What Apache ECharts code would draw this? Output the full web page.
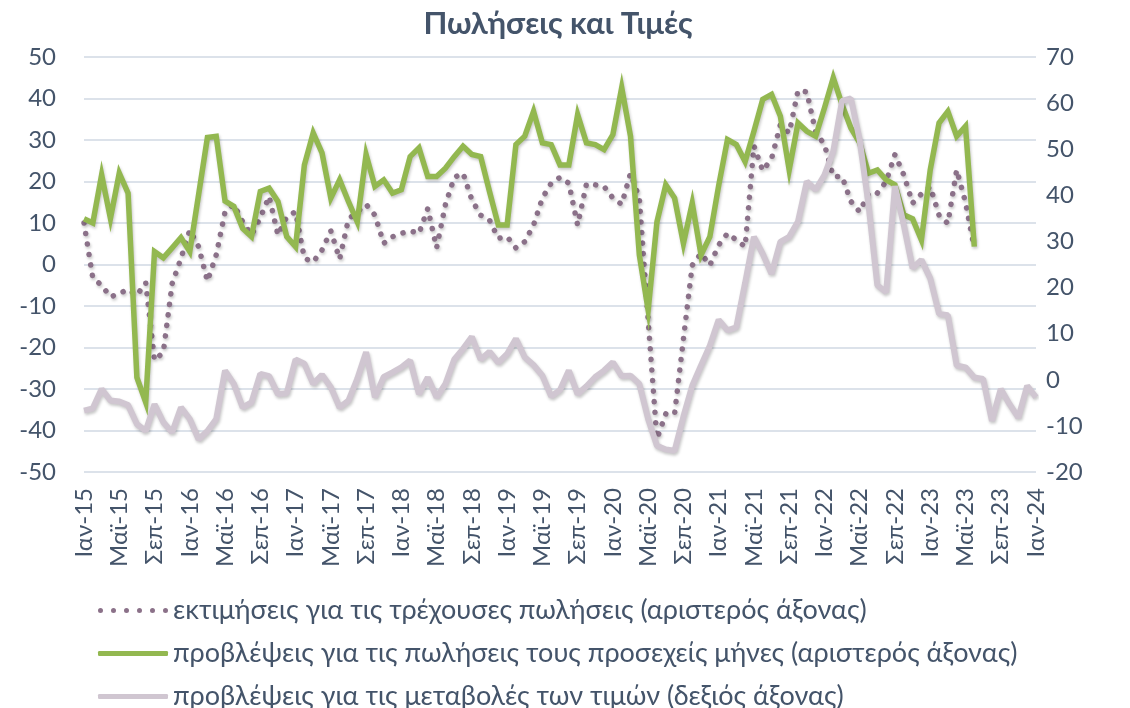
<!DOCTYPE html>
<html>
<head>
<meta charset="utf-8">
<title>Πωλήσεις και Τιμές</title>
<script src="https://cdn.jsdelivr.net/npm/echarts@6/dist/echarts.min.js"></script>
<style>
  html, body { margin: 0; padding: 0; background: #fff; }
  #chart { width: 1130px; height: 708px; }
</style>
</head>
<body>
<div id="chart"></div>
<script>
// μήνες Ιαν-15 ... Ιαν-24
const monthNames = ['Ιαν', 'Φεβ', 'Μαρ', 'Απρ', 'Μαϊ', 'Ιουν', 'Ιουλ', 'Αυγ', 'Σεπ', 'Οκτ', 'Νοε', 'Δεκ'];
const years = [15, 16, 17, 18, 19, 20, 21, 22, 23, 24];

const leftTicks = [-50, -40, -30, -20, -10, 0, 10, 20, 30, 40, 50];
const rightTicks = [-20, -10, 0, 10, 20, 30, 40, 50, 60, 70];

// εκτιμήσεις για τις τρέχουσες πωλήσεις (αριστερός άξονας)
const currentSales = [
  10, -3.3, -5, -7.8, -7, -6, -7.4, -4.4, -23.1, -21.1, -4.6, 1.5,
  8.3, 4.3, -4, 2.3, 12.7, 14.5, 10.3, 7.1, 11.3, 16.4, 7.1, 11.5,
  12.7, 1.5, 0.6, 3.5, 8.1, 1.3, 10.9, 12.7, 14.5, 11.9, 5.1, 6.7,
  7.5, 8.1, 7.5, 13.5, 4, 14.4, 21, 22, 15.6, 11.9, 10.7, 6.3,
  6.7, 4, 5.5, 9.5, 16, 19.6, 21, 19.6, 9.5, 19.4, 19.2, 18.8,
  16, 14.5, 22, 16, -13.5, -42, -36, -36, -18, -0.2, 2.7, -0.2,
  4.7, 7.5, 5.9, 4.3, 28.6, 22.6, 25.5, 33.7, 31.7, 41.9, 41.6, 31.9,
  28.9, 21.2, 21.2, 15.2, 12.7, 17.2, 17.2, 20, 26.5, 21.6, 14.8, 17,
  18.8, 11.9, 9.9, 22.8, 15, 3.9
];

// προβλέψεις για τις πωλήσεις τους προσεχείς μήνες (αριστερός άξονας)
const salesOutlook = [
  11, 10, 21.6, 11.1, 22, 17.2, -27.2, -33.2, 3.1, 1.6, 4, 6.5,
  3.1, 16.8, 30.6, 30.9, 15.3, 14, 8.7, 6.7, 17.6, 18.4, 15.2, 6.7,
  4.3, 24, 31.7, 26.9, 16, 20.4, 15.2, 10.3, 26.5, 18.8, 20.4, 17.2,
  18, 26, 28.1, 21.2, 21.2, 23.2, 26, 28.5, 26.5, 26, 17.6, 9.5,
  9.5, 28.9, 30.9, 36.9, 29.3, 28.9, 24, 24, 36.1, 29.3, 28.9, 27.7,
  31.3, 42.6, 30.9, 2.3, -11, 10.3, 19.2, 16, 5.1, 14.8, 2.3, 6.7,
  19, 30.1, 28.9, 24.8, 32.1, 39.8, 41, 35.7, 22.8, 34.1, 32.1, 30.9,
  37.7, 45, 38.5, 32.9, 29.3, 22, 22.8, 20.4, 19.2, 12, 11, 5.9,
  22.8, 34.1, 36.9, 30.9, 33.3, 4.3
];

// προβλέψεις για τις μεταβολές των τιμών (δεξιός άξονας)
const priceOutlook = [
  -6.7, -6.2, -2, -4.5, -4.7, -5.5, -9.6, -11.1, -5.3, -9.2, -11.4, -6,
  -8.5, -12.9, -11.1, -8.5, 2, -0.9, -6, -4.9, 1.3, 0.8, -3.1, -2.9,
  4.4, 3.5, -0.9, 1.1, -1.6, -6, -4.5, 0.2, 6, -3.8, 0.6, 1.6,
  2.7, 4.2, -3.1, 0.5, -3.8, -0.9, 4.4, 6.7, 9.3, 4.4, 6.1, 3.7,
  5.6, 8.9, 4.9, 3.2, 0.9, -3.6, -2.2, 2, -3.1, -1.4, 0.6, 2,
  3.8, 0.8, 0.9, -0.9, -8.5, -14.3, -15.1, -15.4, -8, -1.3, 3.1, 7.4,
  13, 10.7, 11.4, 21, 31, 27.3, 23, 29.9, 31, 34.3, 43, 41.2,
  44.4, 49.5, 60.5, 61, 52, 38, 20.5, 19, 42, 33.6, 24.2, 26,
  22, 14.3, 14, 3.1, 2.7, 0.5, 0.2, -8.9, -2, -5.3, -8.2, -1.3,
  -3.8
];

const seriesNames = [
  'εκτιμήσεις για τις τρέχουσες πωλήσεις (αριστερός άξονας)',
  'προβλέψεις για τις πωλήσεις τους προσεχείς μήνες (αριστερός άξονας)',
  'προβλέψεις για τις μεταβολές των τιμών (δεξιός άξονας)'
];

const months = [];
years.forEach(y => {
  monthNames.forEach(m => {
    if (y < 24 || m === 'Ιαν') months.push(m + '-' + y);
  });
});

const textColor = '#44546a';
const fontName = 'Lato, "Open Sans", sans-serif';

// εικονίδια υπομνήματος: κουκκίδες και συμπαγής γραμμή
const dotIcon = 'path://' + [2.5, 15.5, 28.5, 41.5, 54.5, 67.5]
  .map(c => 'M' + (c - 2.5) + ',2.5A2.5,2.5 0 1,1 ' + (c + 2.5) + ',2.5A2.5,2.5 0 1,1 ' + (c - 2.5) + ',2.5Z')
  .join('');
const lineIcon = 'roundRect';

const chart = echarts.init(document.getElementById('chart'), null, { renderer: 'canvas' });

const shadow = {
  shadowColor: 'rgba(0, 0, 0, 0.22)',
  shadowBlur: 3,
  shadowOffsetX: 1,
  shadowOffsetY: 2
};

const option = {
  animation: false,
  backgroundColor: '#ffffff',
  textStyle: { fontFamily: fontName },
  title: {
    text: 'Πωλήσεις και Τιμές',
    left: 553,
    top: 3,
    textAlign: 'center',
    textStyle: {
      color: textColor,
      fontSize: 31,
      fontWeight: 'bold',
      fontFamily: fontName
    }
  },
  legend: {
    orient: 'horizontal',
    left: 93,
    top: 589,
    width: 960,
    itemWidth: 70,
    itemHeight: 5,
    itemGap: 10,
    itemStyle: { borderWidth: 0 },
    data: [
      { name: seriesNames[0], icon: dotIcon },
      { name: seriesNames[1], icon: lineIcon },
      { name: seriesNames[2], icon: lineIcon }
    ],
    textStyle: {
      color: textColor,
      fontSize: 27,
      lineHeight: 33,
      fontFamily: fontName
    }
  },
  grid: {
    left: 84,
    right: 94,
    top: 57,
    bottom: 236
  },
  xAxis: {
    type: 'category',
    boundaryGap: false,
    data: months,
    axisLine: { show: false },
    axisTick: { show: false },
    splitLine: { show: false },
    axisLabel: {
      interval: 3,
      rotate: 90,
      margin: 16,
      color: textColor,
      fontSize: 24,
      fontFamily: fontName
    }
  },
  yAxis: [
    {
      type: 'value',
      min: leftTicks[0],
      max: leftTicks[leftTicks.length - 1],
      interval: 10,
      axisLine: { show: false },
      axisTick: { show: false },
      splitLine: { lineStyle: { color: '#dce2ea', width: 2 } },
      axisLabel: {
        margin: 28,
        color: textColor,
        fontSize: 24,
        fontFamily: fontName
      }
    },
    {
      type: 'value',
      min: rightTicks[0],
      max: rightTicks[rightTicks.length - 1],
      interval: 10,
      axisLine: { show: false },
      axisTick: { show: false },
      splitLine: { show: false },
      axisLabel: {
        margin: 10,
        color: textColor,
        fontSize: 24,
        fontFamily: fontName
      }
    }
  ],
  series: [
    {
      name: seriesNames[0],
      type: 'line',
      yAxisIndex: 0,
      data: currentSales,
      symbol: 'none',
      lineStyle: Object.assign({
        color: '#8b7189',
        width: 5.5,
        type: [0.1, 10.5],
        cap: 'round'
      }, shadow),
      itemStyle: { color: '#8b7189' }
    },
    {
      name: seriesNames[1],
      type: 'line',
      yAxisIndex: 0,
      data: salesOutlook,
      symbol: 'none',
      lineStyle: Object.assign({
        color: '#93b850',
        width: 5.5,
        join: 'miter'
      }, shadow),
      itemStyle: { color: '#93b850' }
    },
    {
      name: seriesNames[2],
      type: 'line',
      yAxisIndex: 1,
      data: priceOutlook,
      symbol: 'none',
      lineStyle: Object.assign({
        color: '#d0c6d1',
        width: 6
      }, shadow),
      itemStyle: { color: '#d0c6d1' }
    }
  ]
};

chart.setOption(option);
</script>
</body>
</html>
